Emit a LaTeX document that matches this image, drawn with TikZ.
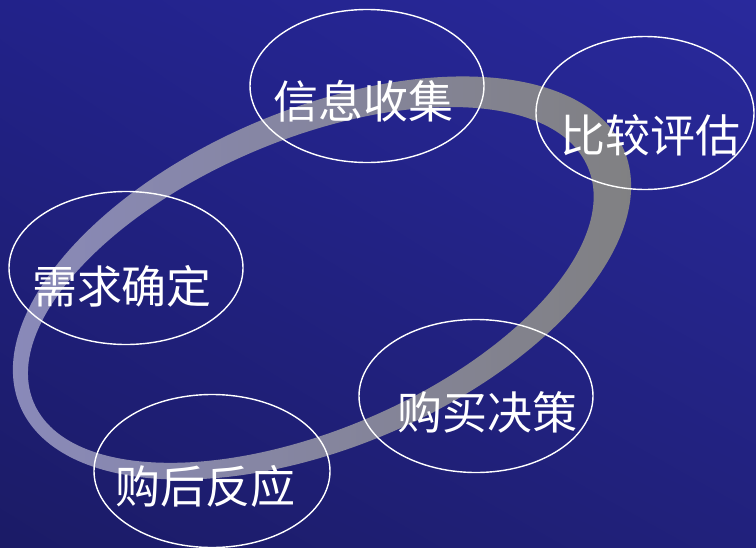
\documentclass[tikz,border=0pt]{standalone}
\usepackage{fontspec}
\newfontfamily\cjk{Noto Sans CJK SC}
\usetikzlibrary{shapes.geometric,shadings}
\definecolor{bgUL}{HTML}{22228A}
\definecolor{bgUR}{HTML}{29299C}
\definecolor{bgLL}{HTML}{1B1B66}
\definecolor{bgLR}{HTML}{21217C}
\definecolor{ringL}{HTML}{8A8ABC}
\definecolor{ringR}{HTML}{808080}
\begin{document}
\begin{tikzpicture}[x=1pt,y=-1pt,
  bubble/.style={draw=white, line width=1.4pt, ellipse, inner sep=0pt,
                 minimum width=234pt, minimum height=153pt},
  stagetext/.style={text=white, inner sep=0pt,
                 font=\cjk\fontsize{45}{45}\selectfont}]
  % background
  \shade[upper left=bgUL, upper right=bgUR, lower left=bgLL, lower right=bgLR]
    (0,0) rectangle (756,547);
  \useasboundingbox (0,0) rectangle (756,547);
  % ring
  \shade[even odd rule, left color=ringL, right color=ringR,
         rotate around={23:(322,278)}]
    (322,278) ellipse [x radius=328pt, y radius=169pt]
    (309,280) ellipse [x radius=301pt, y radius=145pt];
  % stage bubbles
  \node[bubble] (need) at (126,268) {};
  \node[bubble] (info) at (367,86) {};
  \node[bubble, minimum width=218pt] (eval) at (645,113) {};
  \node[bubble] (buy) at (476,396) {};
  \node[bubble, minimum width=236pt] (post) at (212,471) {};
  % texts
  \node[stagetext] (needT) at (122,286) {需求确定};
  \node[stagetext] (infoT) at (363,101) {信息收集};
  \node[stagetext] (evalT) at (650,135) {比较评估};
  \node[stagetext] (buyT) at (487,412) {购买决策};
  \node[stagetext] (postT) at (205,486) {购后反应};
\end{tikzpicture}
\end{document}
